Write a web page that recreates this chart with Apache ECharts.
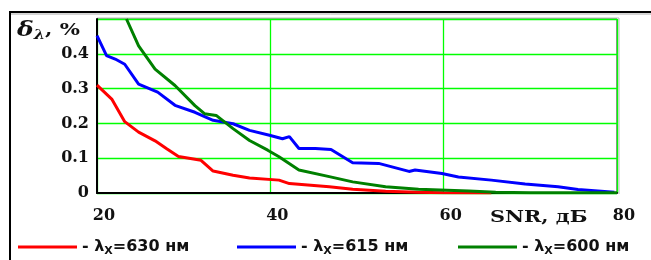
<!DOCTYPE html>
<html>
<head>
<meta charset="utf-8">
<script src="https://cdn.jsdelivr.net/npm/echarts@6/dist/echarts.min.js"></script>
<style>html,body{margin:0;padding:0;background:#fff}#c{width:651px;height:260px}</style>
</head>
<body>
<div id="c"></div>
<script>
const xTicks = [20, 40, 60, 80];
const yTicks = [0, 0.1, 0.2, 0.3, 0.4, 0.5];
const seriesNames = ['630 нм', '615 нм', '600 нм'];

const snr630 = [20, 21.7, 23.2, 24.8, 26.7, 28, 29.4, 32, 33.4, 35.7, 37.6, 41, 42.2, 46.8, 49.5, 53.3, 57, 60, 65.5];
const val630 = [0.31, 0.27, 0.205, 0.175, 0.15, 0.128, 0.105, 0.094, 0.063, 0.051, 0.043, 0.037, 0.027, 0.018, 0.011, 0.005, 0.002, 0.001, 0];

const snr615 = [20, 21.1, 22.1, 23.2, 24.8, 27, 29, 31.3, 33.4, 35.7, 37.6, 39.9, 41.4, 42.2, 43.3, 45.2, 47, 49.5, 52.5, 56, 56.7, 59.8, 61.7, 65.5, 69.4, 73.2, 75.5, 79.7];
const val615 = [0.452, 0.395, 0.385, 0.37, 0.313, 0.29, 0.252, 0.232, 0.209, 0.199, 0.18, 0.166, 0.156, 0.162, 0.128, 0.128, 0.125, 0.087, 0.085, 0.062, 0.066, 0.056, 0.046, 0.037, 0.026, 0.018, 0.01, 0.002];

const snr600 = [23.4, 24.8, 26.7, 29, 31.3, 32.4, 32.6, 33.75, 35.7, 37.6, 39.7, 41, 43.3, 46.8, 49.5, 53.3, 57.1, 62.9, 66, 70, 80];
const val600 = [0.5, 0.423, 0.356, 0.309, 0.251, 0.228, 0.233, 0.223, 0.185, 0.151, 0.123, 0.104, 0.066, 0.047, 0.032, 0.018, 0.011, 0.006, 0.002, 0.001, 0.001];

const zip = (a, b) => a.map((v, i) => [v, b[i]]);
const colors = ['#ff0000', '#0000ff', '#008000'];
const datasets = [zip(snr630, val630), zip(snr615, val615), zip(snr600, val600)];

const chart = echarts.init(document.getElementById('c'));
const legendRich = {
  t: {fontFamily: 'DejaVu Sans', fontWeight: 'bold', fontSize: 16, color: '#111'},
  s: {fontFamily: 'DejaVu Sans', fontWeight: 'bold', fontSize: 11, color: '#111', verticalAlign: 'bottom', padding: [8, 0, 0, 0]}
};
const legendLeft = [13, 232, 453];
chart.setOption({
  animation: false,
  grid: {left: 97, right: 34, top: 19, bottom: 67, show: true, borderColor: '#222', borderWidth: 1},
  xAxis: {
    type: 'value', min: xTicks[0], max: xTicks[xTicks.length - 1], interval: 20,
    axisLine: {show: true, onZero: false, lineStyle: {color: '#000', width: 2}},
    axisTick: {show: false},
    splitLine: {show: true, lineStyle: {color: '#00ff00', width: 1.3}},
    axisLabel: {
      margin: 15, padding: [0, 0, 0, 14],
      fontFamily: 'DejaVu Serif', fontWeight: 'bold', fontSize: 16, color: '#111',
      formatter: v => xTicks.includes(v) ? String(v) : ''
    }
  },
  yAxis: {
    type: 'value', min: yTicks[0], max: yTicks[yTicks.length - 1], interval: 0.1,
    axisLine: {show: true, lineStyle: {color: '#000', width: 2}},
    axisTick: {show: false},
    splitLine: {show: true, lineStyle: {color: '#00ff00', width: 1.3}},
    axisLabel: {
      margin: 8, padding: [8, 0, 0, 0],
      fontFamily: 'DejaVu Serif', fontWeight: 'bold', fontSize: 16, color: '#111',
      formatter: v => v === 0 ? '0' : (Math.abs(v - 0.5) < 1e-6 ? '' : v.toFixed(1))
    }
  },
  legend: seriesNames.map((n, i) => ({
    data: [n], left: legendLeft[i], top: 234, icon: 'rect', itemWidth: 59, itemHeight: 3,
    itemGap: 10, selectedMode: false,
    formatter: name => '{t|- λ}{s|X}{t|=' + name + '}',
    textStyle: {rich: legendRich}
  })),
  graphic: [
    {type: 'line', shape: {x1: 10, y1: 12, x2: 651, y2: 12}, style: {stroke: '#000', lineWidth: 2}},
    {type: 'line', shape: {x1: 10, y1: 14, x2: 651, y2: 14}, style: {stroke: '#aaa', lineWidth: 1}},
    {type: 'line', shape: {x1: 10, y1: 11, x2: 10, y2: 260}, style: {stroke: '#000', lineWidth: 2}},
    {type: 'line', shape: {x1: 97, y1: 18, x2: 619, y2: 18}, style: {stroke: '#bbb', lineWidth: 1}},
    {type: 'line', shape: {x1: 619, y1: 18, x2: 619, y2: 194}, style: {stroke: '#bbb', lineWidth: 1}},
    {
      type: 'text', x: 17, y: 31, scaleX: 1.25,
      style: {
        text: '{d|δ}{l|λ}{p|, %}', verticalAlign: 'middle',
        rich: {
          d: {fontFamily: 'DejaVu Serif', fontStyle: 'italic', fontWeight: 'bold', fontSize: 20, fill: '#111'},
          l: {fontFamily: 'DejaVu Serif', fontStyle: 'italic', fontWeight: 'bold', fontSize: 13, fill: '#111', verticalAlign: 'bottom', padding: [10, 0, 0, 0]},
          p: {fontFamily: 'DejaVu Serif', fontWeight: 'bold', fontSize: 17, fill: '#111'}
        }
      }
    },
    {
      type: 'text', x: 490, y: 218, scaleX: 1.3,
      style: {text: 'SNR, дБ', fontFamily: 'DejaVu Serif', fontWeight: 'bold', fontSize: 16, fill: '#111', verticalAlign: 'middle'}
    }
  ],
  series: seriesNames.map((n, i) => ({
    name: n, type: 'line', data: datasets[i], showSymbol: false, symbol: 'none',
    clip: true, lineStyle: {color: colors[i], width: 3}, itemStyle: {color: colors[i]}
  }))
});
</script>
</body>
</html>
